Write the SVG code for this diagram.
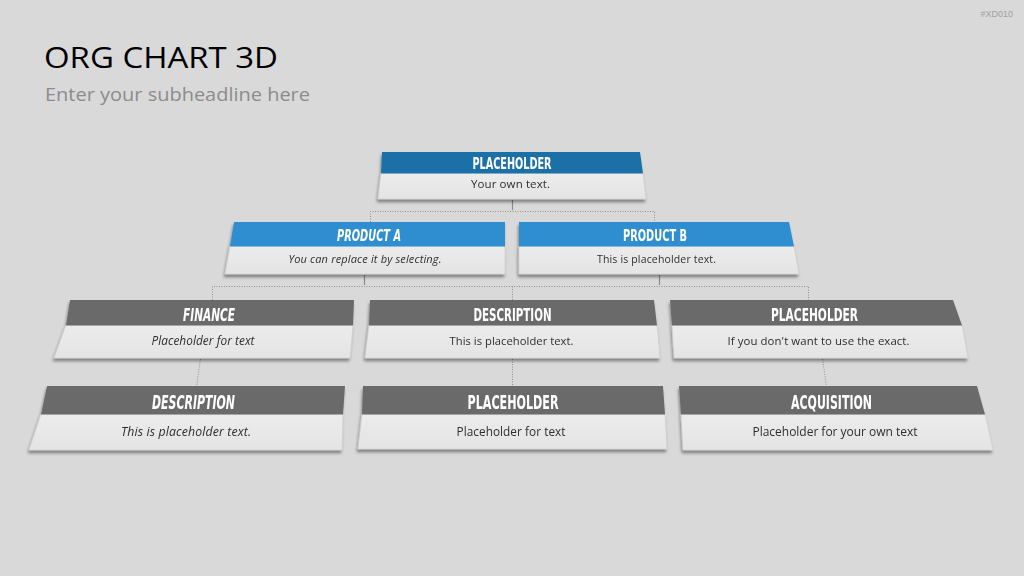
<svg xmlns="http://www.w3.org/2000/svg" width="1024" height="576" viewBox="0 0 1024 576">
<defs>
<filter id="sh" x="-10%" y="-20%" width="120%" height="160%">
<feDropShadow dx="-1" dy="3" stdDeviation="1.5" flood-color="#000" flood-opacity="0.4"/>
</filter>
<linearGradient id="bodyg" x1="0" y1="0" x2="0" y2="1">
<stop offset="0" stop-color="#ECECEC"/>
<stop offset="1" stop-color="#E4E4E4"/>
</linearGradient>
</defs>
<style>
.bg{fill:#D9D9D9}
.body{fill:url(#bodyg);stroke:#CFCFCF;stroke-width:0.6}
.hd1{fill:#1F70A8}
.hd2{fill:#2F8ED0}
.hd3{fill:#6B6B6B}
.ht{font-family:"Liberation Sans Narrow","DejaVu Sans Condensed","Roboto",sans-serif;font-weight:bold;fill:#FFFFFF;text-anchor:middle}
.bt{font-family:"Open Sans","Noto Sans",sans-serif;fill:#2E2E2E;text-anchor:middle}
.it{font-style:italic}
.sol{stroke:#8A8A8A;stroke-width:1.2;fill:none}
.dot{stroke:#8F8F8F;stroke-width:1;stroke-dasharray:1 1.5;fill:none}
</style>
<rect class="bg" x="0" y="0" width="1024" height="576"/>
<text x="1013" y="17" font-family="Liberation Sans, sans-serif" font-size="9" fill="#A0A0A0" text-anchor="end">#XD010</text>
<text x="44" y="68" font-family="Open Sans, Noto Sans, sans-serif" font-size="29" fill="#000000" textLength="234" lengthAdjust="spacingAndGlyphs">ORG CHART 3D</text>
<text x="45" y="101" font-family="Open Sans, Noto Sans, sans-serif" font-size="19" fill="#8C8C8C" textLength="265" lengthAdjust="spacingAndGlyphs">Enter your subheadline here</text>

<g id="connectors">
<line class="sol" x1="512.5" y1="200" x2="512.5" y2="210"/>
<polyline class="dot" points="370.5,222 370.5,211.5 654.5,211.5 654.5,222"/>
<line class="sol" x1="364.5" y1="275" x2="364.5" y2="285"/>
<line class="sol" x1="659.5" y1="275" x2="659.5" y2="285"/>
<polyline class="dot" points="212.5,300 212.5,286.5 808.5,286.5 808.5,300"/>
<line class="dot" x1="512.5" y1="286.5" x2="512.5" y2="300"/>
<line class="dot" x1="200.5" y1="359" x2="196.5" y2="386"/>
<line class="dot" x1="512.5" y1="359" x2="512.5" y2="386"/>
<line class="dot" x1="822.5" y1="359" x2="826.5" y2="386"/>
</g>

<g id="node-top" filter="url(#sh)">
<polygon class="body" points="381,173 643,173 646,199 378,199"/>
<polygon class="hd1" points="382,152 640,152 643,173.5 381,173.5"/>
<text class="ht" x="512" y="169" font-size="16" textLength="79" lengthAdjust="spacingAndGlyphs">PLACEHOLDER</text>
<text class="bt" x="510.5" y="188" font-size="11.5" textLength="79">Your own text.</text>
</g>

<g id="node-product-a" filter="url(#sh)">
<polygon class="body" points="230,246 505,246 505,274 225,274"/>
<polygon class="hd2" points="234,222 505,222 505,246.5 230,246.5"/>
<text class="ht it" x="369" y="241" font-size="16" textLength="64" lengthAdjust="spacingAndGlyphs">PRODUCT A</text>
<text class="bt it" x="365" y="263" font-size="11" textLength="153">You can replace it by selecting.</text>
</g>

<g id="node-product-b" filter="url(#sh)">
<polygon class="body" points="519,246 794,246 799,274 519,274"/>
<polygon class="hd2" points="519,222 789,222 794,246.5 519,246.5"/>
<text class="ht" x="655" y="241" font-size="16" textLength="64" lengthAdjust="spacingAndGlyphs">PRODUCT B</text>
<text class="bt" x="656.5" y="263" font-size="10.5" textLength="119">This is placeholder text.</text>
</g>

<g id="node-finance" filter="url(#sh)">
<polygon class="body" points="66,325 353,325 350,358 54,358"/>
<polygon class="hd3" points="70,300 354,300 353,325.5 66,325.5"/>
<text class="ht it" x="209" y="321" font-size="18" textLength="52" lengthAdjust="spacingAndGlyphs">FINANCE</text>
<text class="bt it" x="203" y="345" font-size="11.8" textLength="103">Placeholder for text</text>
</g>

<g id="node-description-mid" filter="url(#sh)">
<polygon class="body" points="369,325 657,325 660,358 365,358"/>
<polygon class="hd3" points="370,300 654,300 657,325.5 369,325.5"/>
<text class="ht" x="512.5" y="321" font-size="18" textLength="78" lengthAdjust="spacingAndGlyphs">DESCRIPTION</text>
<text class="bt" x="511.5" y="345" font-size="11.2" textLength="124">This is placeholder text.</text>
</g>

<g id="node-placeholder-right" filter="url(#sh)">
<polygon class="body" points="672,325 962,325 968,358 674,358"/>
<polygon class="hd3" points="670,300 953,300 962,325.5 672,325.5"/>
<text class="ht" x="814.5" y="321" font-size="18" textLength="87" lengthAdjust="spacingAndGlyphs">PLACEHOLDER</text>
<text class="bt" x="818.5" y="345" font-size="11.4" textLength="182">If you don't want to use the exact.</text>
</g>

<g id="node-description-left" filter="url(#sh)">
<polygon class="body" points="41,414 343,414 342,450 29,450"/>
<polygon class="hd3" points="47,386 345,386 343,414.5 41,414.5"/>
<text class="ht it" x="193.5" y="409" font-size="19" textLength="83" lengthAdjust="spacingAndGlyphs">DESCRIPTION</text>
<text class="bt it" x="186" y="436" font-size="12.3" textLength="130">This is placeholder text.</text>
</g>

<g id="node-placeholder-mid" filter="url(#sh)">
<polygon class="body" points="362,414 665,414 667,449 358,449"/>
<polygon class="hd3" points="363,386 663,386 665,414.5 362,414.5"/>
<text class="ht" x="513" y="409" font-size="19" textLength="91" lengthAdjust="spacingAndGlyphs">PLACEHOLDER</text>
<text class="bt" x="511" y="436" font-size="11.8" textLength="109">Placeholder for text</text>
</g>

<g id="node-acquisition" filter="url(#sh)">
<polygon class="body" points="681,414 985,414 993,450 683,450"/>
<polygon class="hd3" points="679,386 977,386 985,414.5 681,414.5"/>
<text class="ht" x="831.5" y="409" font-size="19" textLength="81" lengthAdjust="spacingAndGlyphs">ACQUISITION</text>
<text class="bt" x="835" y="436" font-size="12" textLength="165">Placeholder for your own text</text>
</g>
</svg>
